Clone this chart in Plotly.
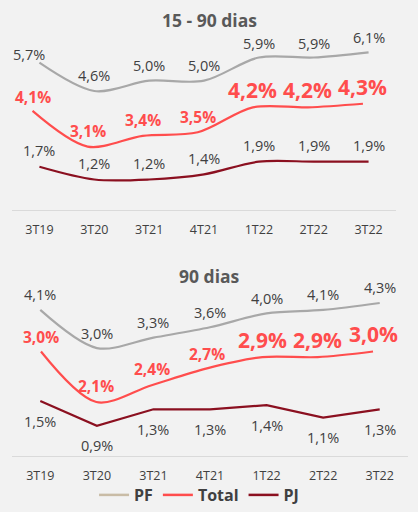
import plotly.graph_objects as go

# ---- data ----
categories = ["3T19", "3T20", "3T21", "4T21", "1T22", "2T22", "3T22"]
pf_15_90 = [5.7, 4.6, 5.0, 5.0, 5.9, 5.9, 6.1]
total_15_90 = [4.1, 3.1, 3.4, 3.5, 4.2, 4.2, 4.3]
pj_15_90 = [1.7, 1.2, 1.2, 1.4, 1.9, 1.9, 1.9]
pf_90 = [4.1, 3.0, 3.3, 3.6, 4.0, 4.1, 4.3]
total_90 = [3.0, 2.1, 2.4, 2.7, 2.9, 2.9, 3.0]
pj_90 = [1.5, 0.9, 1.3, 1.3, 1.4, 1.1, 1.3]
titles = ["15 - 90 dias", "90 dias"]
series_names = ["PF", "Total", "PJ"]

# ---- style ----
W, H = 418, 512
BG = "#f2f2f2"
C_PF = "#a8a8a8"
C_PF_LEG = "#c9bca6"
C_TOT = "#ff4d4d"
C_PJ = "#8b1020"
TXT = "#404040"
FONT = "Open Sans"
LBL = 14.5
total_sizes = [15.5, 15.5, 15.5, 15.5, 21, 21, 21]


def fmt(v):
    return f"{v:.1f}".replace(".", ",") + "%"


def px_dom(a, b, total):
    return [a / total, b / total]


def ydom(top_px, bot_px):
    return [1 - bot_px / H, 1 - top_px / H]


fig = go.Figure()


def add_line(vals, xa, ya, color, shape="spline"):
    fig.add_trace(go.Scatter(
        x=categories, y=vals, xaxis=xa, yaxis=ya, mode="lines",
        line=dict(color=color, width=2.2, shape=shape, smoothing=0.9),
        showlegend=False, hoverinfo="skip"))


add_line(pf_15_90, "x", "y", C_PF)
add_line(total_15_90, "x3", "y3", C_TOT)
add_line(pj_15_90, "x", "y4", C_PJ)
add_line(pf_90, "x2", "y2", C_PF)
add_line(total_90, "x4", "y5", C_TOT)
add_line(pj_90, "x2", "y6", C_PJ, shape="linear")

# legend-only traces
for name, col in zip(series_names, [C_PF_LEG, C_TOT, C_PJ]):
    fig.add_trace(go.Scatter(x=[None], y=[None], mode="lines", name=name,
                             line=dict(color=col, width=2.5), showlegend=True))

ann = []


def add_labels(vals, xref, yref, size, color, bold, yshift, xshifts=None, yshifts=None):
    for i, (c, v) in enumerate(zip(categories, vals)):
        s = size[i] if isinstance(size, list) else size
        txt = fmt(v)
        if bold:
            txt = f"<b>{txt}</b>"
        ys = yshifts[i] if yshifts else yshift
        xs = xshifts[i] if xshifts else 0
        ann.append(dict(x=c, y=v, xref=xref, yref=yref, text=txt, showarrow=False,
                        yshift=ys, xshift=xs,
                        font=dict(family=FONT, size=s, color=color)))


add_labels(pf_15_90, "x", "y", LBL, TXT, False, 15,
           xshifts=[-10, 0, 0, 0, 0, 0, 0], yshifts=[8, 15, 15, 15, 14, 14, 15])
add_labels(total_15_90, "x3", "y3", total_sizes, C_TOT, True, 15,
           yshifts=[14, 16, 16, 15, 17, 17, 17])
add_labels(pj_15_90, "x", "y4", LBL, TXT, False, 16)
add_labels(pf_90, "x2", "y2", LBL, TXT, False, 15)
add_labels(total_90, "x4", "y5", total_sizes, C_TOT, True, 16,
           yshifts=[15, 16, 16, 14, 17, 17, 18])
add_labels(pj_90, "x2", "y6", LBL, TXT, False, -20)

# panel titles
for t, ypx in zip(titles, [20, 279]):
    ann.append(dict(x=0.5, y=1 - ypx / H, xref="paper", yref="paper", text=f"<b>{t}</b>",
                    showarrow=False, xanchor="center", yanchor="middle",
                    font=dict(family=FONT, size=17.5, color="#595959")))

top_dom = ydom(35, 212)
bot_dom = ydom(265, 461)

xbase = dict(type="category", showgrid=False, zeroline=False, range=[-0.5, 6.5],
             tickfont=dict(family=FONT, size=12.5, color=TXT), ticks="",
             showline=True, linecolor="#dadada", linewidth=1, ticklabelstandoff=8)
hidden_x = dict(type="category", range=[-0.5, 6.5], visible=False, showgrid=False)
ybase = dict(visible=False, showgrid=False, zeroline=False)

fig.update_layout(
    width=W, height=H, margin=dict(l=0, r=0, t=0, b=0),
    paper_bgcolor=BG, plot_bgcolor="rgba(0,0,0,0)",
    font=dict(family=FONT, color=TXT),
    xaxis=dict(xbase, domain=px_dom(12, 396, W), anchor="y"),
    xaxis2=dict(xbase, domain=px_dom(12, 408, W), anchor="y2"),
    xaxis3=dict(hidden_x, domain=px_dom(5, 390.5, W), anchor="y3"),
    xaxis4=dict(hidden_x, domain=px_dom(13.3, 400.7, W), anchor="y5"),
    yaxis=dict(ybase, domain=top_dom, range=[-0.019, 6.788], anchor="x"),
    yaxis3=dict(ybase, domain=top_dom, range=[1.322, 6.239], anchor="x3"),
    yaxis4=dict(ybase, domain=top_dom, range=[0.006, 6.881], anchor="x"),
    yaxis2=dict(ybase, domain=bot_dom, range=[-0.129, 5.471], anchor="x2"),
    yaxis5=dict(ybase, domain=bot_dom, range=[1.130, 4.587], anchor="x4"),
    yaxis6=dict(ybase, domain=bot_dom, range=[0.157, 4.857], anchor="x2"),
    annotations=ann,
    legend=dict(orientation="h", x=0.225, xanchor="left", y=1 - 500 / H, yanchor="middle",
                font=dict(family=FONT, size=16, color=TXT, weight="bold"),
                bgcolor="rgba(0,0,0,0)", itemwidth=30),
    showlegend=True,
)

fig.write_html("out.html")
